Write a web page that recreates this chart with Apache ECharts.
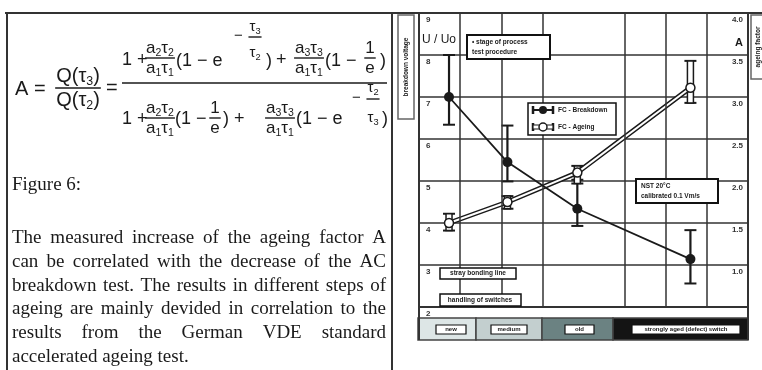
<!DOCTYPE html>
<html>
<head>
<meta charset="utf-8">
<title>Figure 6</title>
<script src="https://cdn.jsdelivr.net/npm/echarts@6/dist/echarts.min.js"></script>
<style>
  html, body { margin: 0; padding: 0; background: #fff; }
  #chart { width: 762px; height: 370px; }
</style>
</head>
<body>
<div id="chart"></div>
<script>
// ageing stages on the x axis (axis units)
var xPos = [0.73, 2.15, 3.85, 6.6];
// AC breakdown U/Uo (left axis) with error range
var uRatio = [7.0, 5.45, 4.34, 3.14];
var uHigh = [8.0, 6.32, 5.03, 3.83];
var uLow = [6.34, 4.99, 3.93, 2.56];
// ageing factor A (right axis) with error range
var ageA = [1.5, 1.75, 2.1, 3.11];
var aHigh = [1.61, 1.82, 2.18, 3.43];
var aLow = [1.41, 1.67, 1.97, 2.93];
// vertical grid lines (one is missing in the original)
var gridX = [1, 2, 3, 5, 6, 7];
var stageLabels = ['new', 'medium', 'old', 'strongly aged (defect) switch'];

var textLines = [
  'The measured increase of the ageing factor A',
  'can be correlated with the decrease of the AC',
  'breakdown test. The results in different steps of',
  'ageing are mainly devided in correlation to the',
  'results from the German VDE standard',
  'accelerated ageing test.'
];

var ctx = document.createElement('canvas').getContext('2d');
function tw(t, font) { ctx.font = font; return ctx.measureText(t).width; }

var els = [];
var SANS = '"Liberation Sans", Arial, sans-serif';
var SERIF = '"Liberation Serif", "Times New Roman", serif';
var INK = '#1a1a1a';

function txt(t, x, y, font, align, extra) {
  var e = { type: 'text', x: x, y: y, z: 100,
    style: { text: t, font: font, fill: INK, align: align || 'left', verticalAlign: 'middle' } };
  if (extra) { for (var k in extra) e[k] = extra[k]; }
  els.push(e);
}
function line(x1, y1, x2, y2, w, c) {
  els.push({ type: 'line', z: 100, shape: { x1: x1, y1: y1, x2: x2, y2: y2 },
    style: { stroke: c || '#333', lineWidth: w || 1 } });
}
function box(x, y, w, h, lw, fill, stroke) {
  els.push({ type: 'rect', z: 99, shape: { x: x, y: y, width: w, height: h },
    style: { fill: fill || '#fff', stroke: stroke || '#111', lineWidth: lw || 1.5 } });
}

// --- math helpers: "a_2τ_2" -> a with subscript 2 ...
function runs(str) {
  var r = [], i = 0;
  while (i < str.length) {
    if (str[i] === '_') { r.push({ t: str[i + 1], sub: true }); i += 2; }
    else { var j = i; while (j < str.length && str[j] !== '_') j++; r.push({ t: str.slice(i, j), sub: false }); i = j; }
  }
  return r;
}
function fsz(s) { return Math.round(s * 10) / 10; }
function mathWidth(str, size) {
  var w = 0;
  runs(str).forEach(function (p) {
    w += tw(p.t, fsz(p.sub ? size * 0.62 : size) + 'px ' + SANS);
  });
  return w;
}
function math(str, x, y, size, center) {
  var cx = center ? x - mathWidth(str, size) / 2 : x;
  runs(str).forEach(function (p) {
    var f = fsz(p.sub ? size * 0.62 : size) + 'px ' + SANS;
    txt(p.t, cx, p.sub ? y + size * 0.3 : y, f, 'left');
    cx += tw(p.t, f);
  });
  return cx;
}
function frac(num, den, cx, ly, up, down, size) {
  var w = Math.max(mathWidth(num, size), mathWidth(den, size), 8);
  math(num, cx, ly - up, size, true);
  math(den, cx, ly + down, size, true);
  line(cx - w / 2 - 1, ly, cx + w / 2 + 1, ly, 1.4, INK);
}

// --- formula
math('A =', 15, 89, 20);
frac('Q(τ_3)', 'Q(τ_2)', 78, 88, 12, 12, 20);
math('=', 106, 88, 20);
line(122, 83, 387, 83, 1.5, INK);
// numerator
math('1 +', 122, 60, 18);
frac('a_2τ_2', 'a_1τ_1', 160, 58, 10, 10, 17);
math('(1 − e', 176, 61, 18);
math('−', 234, 36, 15);
frac('τ_3', 'τ_2', 255, 37, 10, 16, 15);
math(')', 266, 61, 18);
math('+', 276, 60, 18);
frac('a_3τ_3', 'a_1τ_1', 309, 58, 10, 10, 17);
math('(1 −', 325, 61, 18);
frac('1', 'e', 370, 58, 10, 10, 17);
math(')', 380, 61, 18);
// denominator
math('1 +', 122, 119, 18);
frac('a_2τ_2', 'a_1τ_1', 160, 118, 10, 10, 17);
math('(1 −', 175, 119, 18);
frac('1', 'e', 215, 118, 10, 10, 17);
math(') +', 223, 119, 18);
frac('a_3τ_3', 'a_1τ_1', 280, 118, 10, 10, 17);
math('(1 − e', 296, 119, 18);
math('−', 352, 98, 15);
frac('τ_2', 'τ_3', 373, 99, 11, 19, 15);
math(')', 382, 119, 18);

// --- caption and justified paragraph
var PF = '19px ' + SERIF;
txt('Figure 6:', 12, 185, PF);
textLines.forEach(function (t, i) {
  var y = 238 + i * 23.8;
  var words = t.split(' ');
  if (i === textLines.length - 1) { txt(t, 12, y, PF); return; }
  var sum = 0;
  words.forEach(function (w) { sum += tw(w, PF); });
  var gap = (374 - sum) / (words.length - 1);
  var x = 12;
  words.forEach(function (w) { txt(w, x, y, PF); x += tw(w, PF) + gap; });
});

// --- page frame
line(5, 13, 762, 13, 2, '#333');
line(7, 13, 7, 370, 2, '#333');
line(392, 13, 392, 370, 2, '#333');

// --- chart decorations
var SF = 'bold 6.5px ' + SANS;
box(398, 15, 16, 104, 1.5, '#fff', '#666');
txt('breakdown voltage', 406, 67, SF, 'center', { rotation: Math.PI / 2 });
box(751, 15, 14, 64, 1.5, '#fff', '#666');
txt('ageing factor', 758, 47, SF, 'center', { rotation: Math.PI / 2 });

txt('U / Uo', 422, 40, '12px ' + SANS);
txt('A', 743, 43, 'bold 11px ' + SANS, 'right');

box(467, 35, 83, 24, 2);
txt('• stage of process', 472, 42, SF);
txt('test procedure', 472, 52, SF);

box(636, 179, 82, 24, 2);
txt('NST 20°C', 641, 186, SF);
txt('calibrated 0.1 Vm/s', 641, 196, SF);

box(440, 268, 76, 11, 1.5);
txt('stray bonding line', 478, 273.5, SF, 'center');
box(440, 294, 81, 12, 1.5);
txt('handling of switches', 480, 300, SF, 'center');

// legend
box(528, 103, 88, 32, 1.5);
line(533, 106, 533, 114, 2.5, INK); line(553, 106, 553, 114, 2.5, INK);
line(533, 110, 553, 110, 2, INK);
els.push({ type: 'circle', z: 101, shape: { cx: 543, cy: 110, r: 4 }, style: { fill: INK } });
txt('FC - Breakdown', 558, 110, SF);
line(533, 123, 533, 131, 2.5, INK); line(553, 123, 553, 131, 2.5, INK);
els.push({ type: 'rect', z: 100, shape: { x: 533, y: 125, width: 20, height: 4 }, style: { fill: '#fff', stroke: INK, lineWidth: 1.2 } });
els.push({ type: 'circle', z: 101, shape: { cx: 543, cy: 127, r: 4 }, style: { fill: '#fff', stroke: INK, lineWidth: 1.5 } });
txt('FC - Ageing', 558, 127, SF);

// bottom stage band
line(419, 307, 419, 340, 2, '#333');
line(748, 307, 748, 340, 2, '#333');
var band = [[418, 58, '#dde6e6'], [476, 66, '#c3cfcf'], [542, 71, '#6b8282'], [613, 135, '#141414']];
var tags = [[436, 30], [491, 36], [565, 29], [632, 108]];
band.forEach(function (b, i) {
  els.push({ type: 'rect', z: 98, shape: { x: b[0], y: 318, width: b[1], height: 22 },
    style: { fill: b[2], stroke: '#444', lineWidth: 1.5 } });
  box(tags[i][0], 325, tags[i][1], 9, 1.2);
  txt(stageLabels[i], tags[i][0] + tags[i][1] / 2, 329.7, 'bold 6px ' + SANS, 'center');
});

function errRender(open) {
  return function (params, api) {
    var x = api.value(0);
    var lo = api.coord([x, api.value(1)]);
    var hi = api.coord([x, api.value(2)]);
    var c = lo[0];
    var kids = [
      { type: 'line', shape: { x1: c - 6, y1: lo[1], x2: c + 6, y2: lo[1] }, style: { stroke: INK, lineWidth: 2 } },
      { type: 'line', shape: { x1: c - 6, y1: hi[1], x2: c + 6, y2: hi[1] }, style: { stroke: INK, lineWidth: 2 } }
    ];
    if (open) {
      kids.push({ type: 'rect', shape: { x: c - 3, y: hi[1], width: 6, height: lo[1] - hi[1] }, style: { fill: '#fff', stroke: INK, lineWidth: 1.5 } });
    } else {
      kids.push({ type: 'line', shape: { x1: c, y1: lo[1], x2: c, y2: hi[1] }, style: { stroke: INK, lineWidth: 2.2 } });
    }
    return { type: 'group', children: kids };
  };
}

var chart = echarts.init(document.getElementById('chart'), null, { renderer: 'canvas' });
chart.setOption({
  animation: false,
  backgroundColor: '#fff',
  grid: { left: 419, right: 14, top: 13, bottom: 63, show: true, borderColor: '#333', borderWidth: 2 },
  xAxis: { type: 'value', min: 0, max: 8, show: true, axisLine: { show: false }, axisTick: { show: false },
    axisLabel: { show: false }, splitLine: { show: false } },
  yAxis: [
    { type: 'value', min: 2, max: 9, interval: 1, position: 'left',
      axisLine: { show: false }, axisTick: { show: false },
      splitLine: { show: true, lineStyle: { color: '#333', width: 1.5 } },
      axisLabel: { inside: true, margin: 7, verticalAlign: 'top', padding: [3, 0, 0, 0],
        fontSize: 8, fontWeight: 'bold', fontFamily: 'Liberation Sans', color: '#333' } },
    { type: 'value', min: 0.5, max: 4, interval: 0.5, position: 'right',
      axisLine: { show: false }, axisTick: { show: false }, splitLine: { show: false },
      axisLabel: { inside: true, margin: 5, verticalAlign: 'top', padding: [3, 0, 0, 0],
        fontSize: 8, fontWeight: 'bold', fontFamily: 'Liberation Sans', color: '#333',
        formatter: function (v) { return (v >= 1 && v <= 3.5) ? v.toFixed(1) : (v === 4 ? '4.0' : ''); } } }
  ],
  graphic: { elements: els },
  series: [
    { type: 'line', data: [], z: 1, silent: true,
      markLine: { silent: true, symbol: 'none', label: { show: false },
        lineStyle: { color: '#333', width: 1.5, type: 'solid' },
        data: gridX.map(function (v) { return { xAxis: v }; }) } },
    { type: 'custom', yAxisIndex: 0, z: 3, renderItem: errRender(false),
      encode: { x: 0, y: [1, 2] },
      data: xPos.map(function (x, i) { return [x, uLow[i], uHigh[i]]; }) },
    { type: 'custom', yAxisIndex: 1, z: 3, renderItem: errRender(true),
      encode: { x: 0, y: [1, 2] },
      data: xPos.map(function (x, i) { return [x, aLow[i], aHigh[i]]; }) },
    { name: 'FC - Breakdown', type: 'line', yAxisIndex: 0, z: 5,
      data: xPos.map(function (x, i) { return [x, uRatio[i]]; }),
      symbol: 'circle', symbolSize: 10, lineStyle: { color: INK, width: 1.8 },
      itemStyle: { color: INK } },
    { type: 'line', yAxisIndex: 1, z: 4, silent: true,
      data: xPos.map(function (x, i) { return [x, ageA[i]]; }),
      symbol: 'none', lineStyle: { color: INK, width: 5 } },
    { name: 'FC - Ageing', type: 'line', yAxisIndex: 1, z: 4,
      data: xPos.map(function (x, i) { return [x, ageA[i]]; }),
      symbol: 'circle', symbolSize: 9, lineStyle: { color: '#fff', width: 2 },
      itemStyle: { color: '#fff', borderColor: INK, borderWidth: 1.5 } }
  ]
});
</script>
</body>
</html>
